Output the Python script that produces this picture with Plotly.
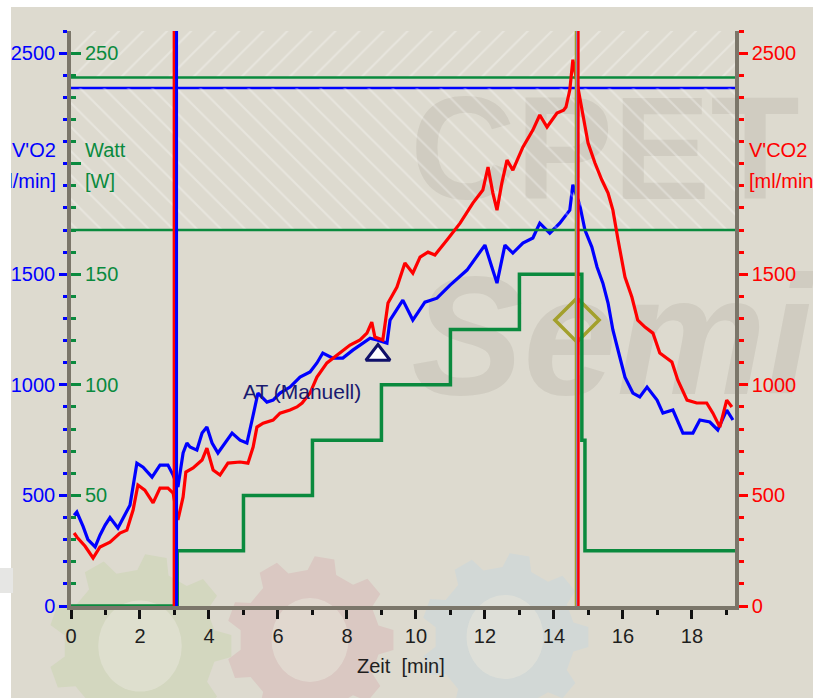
import numpy as np
import plotly.graph_objects as go

# ---- Messdaten (Spiroergometrie) ----
zeit_vo2 = [0.09, 0.17, 0.35, 0.49, 0.70, 0.84, 0.99, 1.13, 1.36, 1.57, 1.71, 1.91, 2.09, 2.35, 2.58,
            2.81, 2.96, 3.10, 3.25, 3.36, 3.45, 3.65, 3.80, 3.94, 4.09, 4.26, 4.46, 4.67, 4.90, 5.10,
            5.25, 5.33, 5.42, 5.68, 5.86, 6.06, 6.35, 6.64, 6.93, 7.13, 7.30, 7.59, 7.88, 8.17, 8.46,
            8.67, 8.87, 9.16, 9.25, 9.62, 9.91, 10.26, 10.61, 10.99, 11.48, 12.00, 12.20, 12.35, 12.58,
            12.81, 13.10, 13.39, 13.59, 13.88, 14.17, 14.46, 14.55, 14.75, 14.90, 15.10, 15.25, 15.42,
            15.57, 15.71, 15.91, 16.06, 16.29, 16.49, 16.70, 16.99, 17.16, 17.45, 17.74, 18.03, 18.23,
            18.52, 18.75, 19.01, 19.19]
vo2 = [410, 425, 360, 300, 267, 320, 366, 400, 353, 411, 456, 646, 628, 583, 637,
       637, 592, 538, 692, 737, 719, 705, 782, 809, 737, 692, 737, 782, 750, 737,
       841, 900, 963, 922, 931, 963, 990, 1035, 1058, 1099, 1144, 1121, 1121, 1157, 1189,
       1211, 1203, 1189, 1293, 1383, 1293, 1374, 1392, 1451, 1519, 1632, 1533, 1460, 1632,
       1596, 1641, 1664, 1731, 1686, 1731, 1790, 1905, 1813, 1700, 1623, 1533, 1460,
       1370, 1248, 1126, 1035, 963, 945, 990, 931, 872, 886, 782, 782, 841,
       832, 796, 886, 841]

zeit_vco2 = [0.09, 0.17, 0.41, 0.64, 0.84, 1.13, 1.42, 1.62, 1.80, 1.94, 2.14, 2.38, 2.58, 2.81, 2.96,
             3.10, 3.25, 3.33, 3.54, 3.80, 3.94, 4.12, 4.32, 4.55, 4.90, 5.13, 5.28, 5.39, 5.57, 5.86,
             6.06, 6.35, 6.55, 6.70, 6.93, 7.13, 7.42, 7.71, 8.09, 8.38, 8.58, 8.72, 8.81, 9.04, 9.19,
             9.45, 9.68, 9.91, 10.12, 10.35, 10.55, 10.90, 11.28, 11.65, 11.94, 12.09, 12.23, 12.35,
             12.49, 12.64, 12.81, 13.10, 13.39, 13.59, 13.80, 14.09, 14.28, 14.35, 14.46, 14.55, 14.84,
             14.99, 15.19, 15.39, 15.57, 15.71, 15.86, 16.06, 16.26, 16.43, 16.64, 16.87, 17.07, 17.42,
             17.59, 17.86, 18.14, 18.43, 18.61, 18.81, 19.01, 19.16]
vco2 = [330, 312, 270, 217, 267, 289, 330, 343, 434, 547, 524, 466, 533, 533, 511,
        389, 493, 606, 624, 660, 714, 615, 592, 646, 651, 646, 719, 809, 827, 841,
        872, 886, 900, 918, 963, 1035, 1099, 1135, 1180, 1203, 1234, 1284, 1216, 1203, 1370,
        1442, 1551, 1505, 1578, 1600, 1587, 1655, 1731, 1822, 1881, 1985, 1867, 1790,
        1912, 2016, 1971, 2075, 2152, 2220, 2166, 2229, 2242, 2256, 2333, 2470, 2229,
        2093, 2003, 1926, 1867, 1790, 1655, 1487, 1397, 1293, 1261, 1234, 1144, 1103,
        1022, 931, 918, 918, 872, 809, 931, 900]

# Belastungsstufen (Watt)
zeit_watt = [0, 3.08, 3.08, 5.0, 5.0, 7.0, 7.0, 9.0, 9.0, 11.0, 11.0, 13.0, 13.0, 14.81, 14.81, 14.9, 14.9, 19.25]
watt = [0, 0, 25, 25, 50, 50, 75, 75, 100, 100, 125, 125, 150, 150, 75, 75, 25, 25]

# Referenzwerte
watt_soll_max = 239
watt_grenze = 170
vo2_soll_max = 2342

# Ereignisse
at_zeit, at_vo2 = 8.9, 1135          # anaerobe Schwelle (manuell)
peak_zeit, peak_vo2 = 14.67, 1293    # Belastungsabbruch
marker_start = [(2.99, "#ff0000", 3), (3.06, "#0000ff", 3)]
marker_ende = [(14.64, "#a3a02c", 2.5), (14.67, "#8a7cf0", 1.5), (14.71, "#ff0000", 2.5)]

x_ticks = [0, 2, 4, 6, 8, 10, 12, 14, 16, 18]
vo2_ticks = [0, 500, 1000, 1500, 2500]
watt_ticks = [50, 100, 150, 250]

X_MAX = 19.25
Y_MAX = 2600
W_MAX = 260

BLUE = "#0000ff"
RED = "#ff0000"
GREEN = "#0a8a3e"
OLIVE = "#a3a02c"
AXIS = "#7b766a"
BG = "#dddacf"
FONT = "Liberation Sans, Arial, sans-serif"
FS = 20

# plot area in pixels
L, R, T, B = 71, 735, 31, 606
W_PX, H_PX = 813, 698


def paper(px, py):
    return (px - L) / (R - L), (B - py) / (B - T)


def data_xy(px, py):
    return (px - L) / (R - L) * X_MAX, (B - py) / (B - T) * Y_MAX


def gear_path(cx, cy, r_out, r_in, n):
    pts = []
    p = 2 * np.pi / n
    for i in range(n):
        a = i * p
        for da, r in ((-0.30, r_in), (-0.17, r_out), (0.17, r_out), (0.30, r_in)):
            ang = a + da * p
            pts.append(paper(cx + r * np.cos(ang), cy + r * np.sin(ang)))
    return "M " + " L ".join(f"{x:.4f},{y:.4f}" for x, y in pts) + " Z"


fig = go.Figure()

# schraffierte Bereiche
hatch = dict(fgcolor="rgba(255,255,255,0.6)", bgcolor="rgba(0,0,0,0)", size=17, solidity=0.12,
             fillmode="overlay")
fig.add_trace(go.Scatter(
    x=[0, X_MAX, X_MAX, 0], y=[watt_soll_max, watt_soll_max, W_MAX, W_MAX], yaxis="y2",
    mode="lines", line=dict(width=0), fill="toself", fillcolor="rgba(0,0,0,0)",
    fillpattern=dict(shape="/", **hatch), hoverinfo="skip", showlegend=False))
fig.add_trace(go.Scatter(
    x=[0, X_MAX, X_MAX, 0], y=[watt_grenze, watt_grenze, vo2_soll_max / 10, vo2_soll_max / 10], yaxis="y2",
    mode="lines", line=dict(width=0), fill="toself", fillcolor="rgba(0,0,0,0)",
    fillpattern=dict(shape="\\", **hatch), hoverinfo="skip", showlegend=False))

# Hintergrund-Schriftzug
wm_color = "rgba(40,35,20,0.07)"
cx, cy = data_xy(605, 162)
fig.add_trace(go.Scatter(x=[cx], y=[cy], mode="text", text=["CPET"], cliponaxis=False,
                         textfont=dict(family=FONT, size=146, color=wm_color, weight="bold"),
                         hoverinfo="skip", showlegend=False))
sx, sy = data_xy(612, 352)
fig.add_trace(go.Scatter(x=[sx], y=[sy], mode="text", text=["Semi"], cliponaxis=False,
                         textfont=dict(family=FONT, size=168, color=wm_color, weight="bold",
                                       style="italic"),
                         hoverinfo="skip", showlegend=False))

# Referenzlinien
fig.add_trace(go.Scatter(x=[0, X_MAX], y=[watt_soll_max] * 2, yaxis="y2", mode="lines",
                         line=dict(color=GREEN, width=2.5), hoverinfo="skip", showlegend=False))
fig.add_trace(go.Scatter(x=[0, X_MAX], y=[watt_grenze] * 2, yaxis="y2", mode="lines",
                         line=dict(color=GREEN, width=2.5), hoverinfo="skip", showlegend=False))
fig.add_trace(go.Scatter(x=[0, X_MAX], y=[vo2_soll_max] * 2, yaxis="y", mode="lines",
                         line=dict(color=BLUE, width=2.5), hoverinfo="skip", showlegend=False))

# Belastung
fig.add_trace(go.Scatter(x=zeit_watt, y=watt, yaxis="y2", mode="lines",
                         line=dict(color=GREEN, width=3.5), name="Watt", showlegend=False))
# V'O2 / V'CO2
fig.add_trace(go.Scatter(x=zeit_vo2, y=vo2, yaxis="y", mode="lines",
                         line=dict(color=BLUE, width=3.2), name="V'O2", showlegend=False))
fig.add_trace(go.Scatter(x=zeit_vco2, y=vco2, yaxis="y3", mode="lines",
                         line=dict(color=RED, width=3.2), name="V'CO2", showlegend=False))

# Ereignismarker
fig.add_trace(go.Scatter(x=[at_zeit], y=[at_vo2], yaxis="y", mode="markers",
                         marker=dict(symbol="triangle-up", size=21, color="white",
                                     line=dict(color="#10106a", width=3)),
                         showlegend=False))
fig.add_trace(go.Scatter(x=[peak_zeit], y=[peak_vo2], yaxis="y", mode="markers",
                         marker=dict(symbol="diamond-open", size=34, color=OLIVE,
                                     line=dict(color=OLIVE, width=3.5)),
                         showlegend=False))

shapes = []
# Hintergrund
x0, y0 = paper(11, 7)
x1, y1 = paper(W_PX + 5, H_PX + 5)
shapes.append(dict(type="rect", xref="paper", yref="paper", x0=x0, y0=y1, x1=x1, y1=y0,
                   fillcolor=BG, line=dict(width=0), layer="below"))
gx0, gy0 = paper(0, 568)
gx1, gy1 = paper(13, 593)
shapes.append(dict(type="rect", xref="paper", yref="paper", x0=gx0, y0=gy1, x1=gx1, y1=gy0,
                   fillcolor="#e6e6e4", line=dict(width=0), layer="below"))
# Zahnräder
for (gcx, gcy, ro, ri, col) in [(140, 646, 92, 76, "#d3d7bf"),
                                (310, 640, 84, 70, "#dac8c2"),
                                (505, 637, 84, 70, "#d2d8d6")]:
    shapes.append(dict(type="path", xref="paper", yref="paper", path=gear_path(gcx, gcy, ro, ri, 9),
                       fillcolor=col, line=dict(width=0), layer="below"))
    ex0, ey0 = paper(gcx - ri * 0.55, gcy - ri * 0.6)
    ex1, ey1 = paper(gcx + ri * 0.55, gcy + ri * 0.6)
    shapes.append(dict(type="circle", xref="paper", yref="paper", x0=ex0, y0=ey1, x1=ex1, y1=ey0,
                       fillcolor="rgba(232,230,218,0.55)", line=dict(width=0), layer="below"))

for t, c, w in marker_start + marker_ende:
    shapes.append(dict(type="line", xref="x", yref="paper", x0=t, x1=t, y0=0, y1=1,
                       line=dict(color=c, width=w), layer="above"))

annotations = []


def ann(text, px, py, color, xanchor, size=FS):
    ax, ay = paper(px, py)
    annotations.append(dict(text=text, x=ax, y=ay, xref="paper", yref="paper", showarrow=False,
                            xanchor=xanchor, yanchor="middle",
                            font=dict(family=FONT, size=size, color=color)))


ann("V'O2", 58, 150, BLUE, "right")
ann("[ml/min]", 58, 181, BLUE, "right")
ann("Watt", 83, 150, GREEN, "left")
ann("[W]", 83, 181, GREEN, "left")
ann("V'CO2", 747, 150, RED, "left")
ann("[ml/min]", 747, 181, RED, "left")
ann("Zeit  [min]", 401, 666, "#1e1e1e", "center")

# weißer Fensterrand links (verdeckt den überstehenden Achsentitel)
mx, my = paper(0, 181)
annotations.append(dict(text=" ", x=mx, y=my, xref="paper", yref="paper", showarrow=False,
                        xanchor="left", yanchor="middle", width=11, height=34, bgcolor="white",
                        borderpad=0, borderwidth=0))

# Beschriftung der Watt-Achse (innen)
wx, _ = paper(83, 0)
for wv in watt_ticks:
    annotations.append(dict(text=str(wv), x=wx, y=wv, xref="paper", yref="y2", showarrow=False,
                            xanchor="left", yanchor="middle",
                            font=dict(family=FONT, size=FS, color=GREEN)))

annotations.append(dict(text="AT (Manuell)", x=at_zeit, y=at_vo2, xref="x", yref="y", showarrow=False,
                        xanchor="right", yanchor="middle", xshift=-15, yshift=-37,
                        font=dict(family=FONT, size=21, color="#1a1a70")))

fig.update_layout(
    width=W_PX, height=H_PX, autosize=False,
    margin=dict(l=L, r=W_PX - R, t=T, b=H_PX - B, pad=0),
    paper_bgcolor="white", plot_bgcolor="rgba(0,0,0,0)",
    showlegend=False,
    shapes=shapes, annotations=annotations,
    xaxis=dict(range=[0, X_MAX], showgrid=False, zeroline=False, showline=True, linecolor=AXIS,
               linewidth=3.5, ticks="outside", tickvals=x_ticks, ticklen=9, tickwidth=3, automargin=False,
               tickcolor="#111111", tickfont=dict(family=FONT, size=FS, color="#1e1e1e"),
               minor=dict(dtick=1, tick0=0, ticks="outside", ticklen=5, tickwidth=3, tickcolor="#111111")),
    yaxis=dict(range=[0, Y_MAX], showgrid=False, zeroline=False, showline=True, linecolor=AXIS,
               linewidth=3.5, side="left", ticks="outside", tickvals=vo2_ticks, ticklen=8, tickwidth=3,
               automargin=False,
               tickcolor=BLUE, tickfont=dict(family=FONT, size=FS, color=BLUE),
               minor=dict(dtick=100, tick0=0, ticks="outside", ticklen=4, tickwidth=3, tickcolor=BLUE)),
    yaxis2=dict(range=[0, W_MAX], overlaying="y", side="left", anchor="x", showgrid=False,
                zeroline=False, showline=False, ticks="inside", showticklabels=False, automargin=False,
                tickvals=watt_ticks + [200], ticklen=10, tickwidth=3, tickcolor=GREEN,
                minor=dict(dtick=10, tick0=0, ticks="inside", ticklen=5, tickwidth=3, tickcolor=GREEN)),
    yaxis3=dict(range=[0, Y_MAX], overlaying="y", side="right", anchor="x", showgrid=False,
                zeroline=False, showline=True, linecolor=AXIS, linewidth=3.5, ticks="outside",
                tickvals=vo2_ticks, ticklen=9, tickwidth=3, tickcolor=RED, automargin=False,
                tickfont=dict(family=FONT, size=FS, color=RED),
                minor=dict(dtick=100, tick0=0, ticks="outside", ticklen=5, tickwidth=3, tickcolor=RED)),
)

fig.write_html("out.html")
